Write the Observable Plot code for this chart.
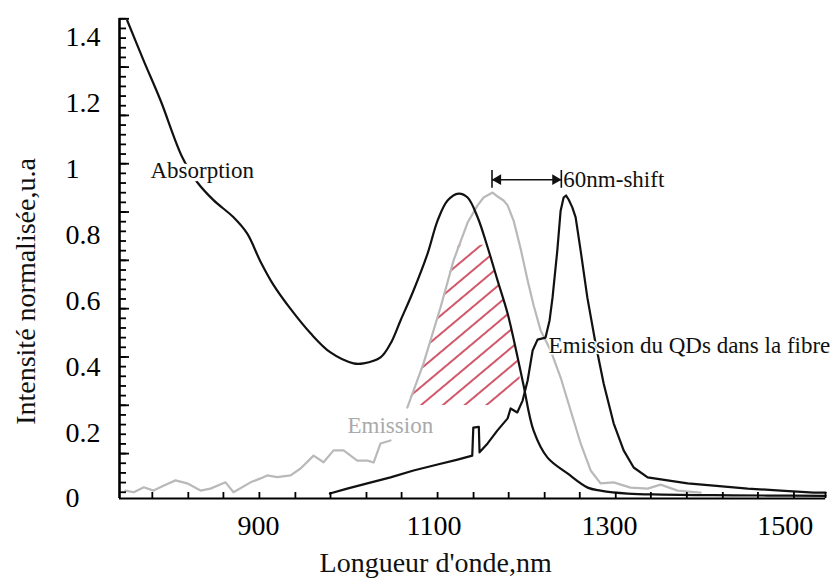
<!DOCTYPE html>
<html><head><meta charset="utf-8">
<script src="https://cdn.jsdelivr.net/npm/d3@7"></script>
<script src="https://cdn.jsdelivr.net/npm/@observablehq/plot@0.6"></script>
<style>
body{margin:0;background:#fff}
#chart svg, #chart svg text { font-family: "Liberation Serif", "Times New Roman", serif !important; }
</style>
</head><body><div id="chart"></div>
<script>
// ---- data (wavelength in nm, normalised intensity) ----
const absorptionNm  = [750.4, 769, 788.3, 813, 830, 848.7, 871.5, 887, 902, 917, 936.5, 959.3, 982, 1008.3, 1019.7, 1039, 1050.4, 1061.8, 1076.6, 1092.6, 1104, 1115.4, 1128, 1138.2, 1149.6, 1161, 1172.4, 1183.8, 1195.2, 1202, 1213.4, 1229.3, 1252, 1275, 1289.7, 1320.5, 1360, 1420, 1480, 1546];
const absorptionVal = [1.450, 1.329, 1.208, 1.036, 0.960, 0.905, 0.853, 0.804, 0.720, 0.648, 0.575, 0.501, 0.443, 0.410, 0.410, 0.428, 0.470, 0.540, 0.631, 0.743, 0.843, 0.904, 0.925, 0.913, 0.853, 0.762, 0.661, 0.561, 0.428, 0.343, 0.206, 0.124, 0.076, 0.033, 0.024, 0.015, 0.012, 0.010, 0.009, 0.008];

const emissionNm  = [748.4, 757.9, 769.3, 780.3, 791.7, 805.4, 818.7, 833.9, 845.3, 862.4, 871.5, 890.9, 902.3, 909.9, 921.3, 936.5, 947.9, 962.7, 974.1, 985.5, 996.9, 1012.5, 1024.3, 1031.1, 1039, 1050.4, 1060, 1069.5, 1088, 1107.4, 1122.2, 1138.2, 1149.6, 1156.4, 1166.7, 1172.4, 1179.2, 1183.8, 1190.6, 1198.6, 1206.6, 1213.4, 1221.4, 1232.8, 1244.2, 1255.6, 1267, 1278.4, 1289.7, 1304.6, 1323.9, 1343.3, 1358.1, 1377.5, 1403.7];
const emissionVal = [0.024, 0.019, 0.034, 0.024, 0.039, 0.055, 0.046, 0.024, 0.030, 0.049, 0.019, 0.049, 0.061, 0.070, 0.065, 0.070, 0.091, 0.130, 0.110, 0.146, 0.146, 0.115, 0.115, 0.109, 0.167, 0.176, NaN, 0.276, 0.410, 0.580, 0.722, 0.837, 0.889, 0.913, 0.928, 0.916, 0.904, 0.889, 0.843, 0.758, 0.661, 0.586, 0.510, 0.449, 0.367, 0.267, 0.167, 0.085, 0.046, 0.049, 0.033, 0.030, 0.042, 0.024, 0.018];

const fibreNm  = [981.3, 1001, 1023.9, 1050.4, 1076.6, 1104, 1126.8, 1143.5, 1144.7, 1151, 1151.8, 1161, 1172, 1183.8, 1187.2, 1194.8, 1200.9, 1206.6, 1212.3, 1217.9, 1227, 1231.6, 1235, 1240.4, 1244.2, 1247.6, 1250.4, 1253.3, 1257.5, 1261.3, 1267, 1274.6, 1284, 1293.2, 1304.6, 1316, 1327.4, 1343.3, 1366, 1388.9, 1418.5, 1457.3, 1494.9, 1532.5, 1546];
const fibreVal = [0.015, 0.030, 0.046, 0.064, 0.085, 0.103, 0.118, 0.130, 0.215, 0.217, 0.140, 0.167, 0.206, 0.243, 0.273, 0.261, 0.297, 0.358, 0.449, 0.482, 0.488, 0.540, 0.610, 0.752, 0.873, 0.913, 0.919, 0.907, 0.883, 0.853, 0.752, 0.610, 0.470, 0.349, 0.228, 0.146, 0.094, 0.064, 0.055, 0.046, 0.039, 0.030, 0.024, 0.018, 0.018];

// hatched overlap region (value, left edge nm, right edge nm)
const hatchVal   = [0.282, 0.328, 0.419, 0.510, 0.601, 0.692, 0.768];
const hatchLeft  = [1069.8, 1076.6, 1089.2, 1099.4, 1109.7, 1118.8, 1127.9];
const hatchRight = [1181.5, 1199.7, 1195.7, 1188.3, 1179.2, 1168.9, 1159.8];

// 60 nm shift marker
const shiftNm = [1166, 1245];
const shiftVal = 0.967;
const shiftBar = [0.941, 0.995];

// axes
const xDomain = [741.6, 1546.2];
const yDomain = [0, 1.456];
const xTickLabels = [900, 1100, 1300, 1500];
const yTickLabels = [0, 0.2, 0.4, 0.6, 0.8, 1, 1.2, 1.4];
const xMinorTicks = [779, 820, 860, 901, 942, 982, 1023, 1063, 1104, 1145, 1185, 1226, 1266, 1307, 1347, 1388, 1429, 1469, 1510, 1546];
const yMinorTicks = d3.range(0.019, 1.46, 0.02931);
const yMajorTicks = d3.range(0.1362, 1.46, 0.14655);

const xTitle = "Longueur d'onde,nm";
const yTitle = "Intensité normalisée,u.a";

const rows = (xs, ys) => xs.map((x, i) => ({x, y: ys[i]}));
const absorption = rows(absorptionNm, absorptionVal);
const emission = rows(emissionNm, emissionVal);
const fibre = rows(fibreNm, fibreVal);
const hatch = hatchVal.map((y, i) => ({y, x1: hatchLeft[i], x2: hatchRight[i]}));

const fmt = d => String(d);

const chart = Plot.plot({
  width: 831, height: 579,
  marginLeft: 119, marginRight: 5.8, marginTop: 18, marginBottom: 81,
  style: {background: "white"},
  x: {domain: xDomain, label: null},
  y: {domain: yDomain, label: null},
  marks: [
    Plot.areaX(hatch, {y: "y", x1: "x1", x2: "x2", fill: "url(#hatch)"}),
    Plot.line(emission, {x: "x", y: "y", stroke: "#b9b9b9", strokeWidth: 2.2}),
    Plot.line(absorption, {x: "x", y: "y", stroke: "#111", strokeWidth: 2.2, curve: "catmull-rom"}),
    Plot.line(fibre, {x: "x", y: "y", stroke: "#111", strokeWidth: 2.2}),
    // axis lines
    Plot.ruleX([xDomain[0]], {stroke: "#000", strokeWidth: 2.6}),
    Plot.ruleY([yDomain[0]], {stroke: "#000", strokeWidth: 2.2}),
    // tick labels
    Plot.axisY({ticks: yTickLabels, tickSize: 0, tickPadding: 54, textAnchor: "start", tickFormat: fmt, fontSize: 28}),
    Plot.axisX({ticks: xTickLabels, tickSize: 0, tickPadding: 17, tickFormat: fmt, fontSize: 28}),
    // axis titles
    Plot.text([xTitle], {text: d => d, frameAnchor: "bottom", textAnchor: "middle", lineAnchor: "middle", dx: -37, dy: 65, fontSize: 28, fill: "#111"}),
    Plot.text([yTitle], {text: d => d, frameAnchor: "left", textAnchor: "middle", lineAnchor: "middle", rotate: -90, dx: -93, dy: 33, fontSize: 28, fill: "#111"}),
    // shift marker
    Plot.ruleX(shiftNm, {x: d => d, y1: shiftBar[0], y2: shiftBar[1], stroke: "#111", strokeWidth: 1.6}),
    Plot.link([shiftNm], {x1: d => d[0], x2: d => d[1], y1: shiftVal, y2: shiftVal, stroke: "#111", strokeWidth: 1.6}),
    Plot.dot([shiftNm[0]], {x: d => d, y: shiftVal, symbol: "triangle", rotate: -90, r: 4, dx: 6, fill: "#111", stroke: null}),
    Plot.dot([shiftNm[1]], {x: d => d, y: shiftVal, symbol: "triangle", rotate: 90, r: 4, dx: -6, fill: "#111", stroke: null}),
    // annotations
    Plot.text(["60nm-shift"], {x: shiftNm[1], y: shiftVal, text: d => d, textAnchor: "start", dx: 2, fontSize: 23, fill: "#111"}),
    Plot.text(["Absorption"], {x: 776.9, y: 0.995, text: d => d, textAnchor: "start", fontSize: 23, fill: "#111", stroke: "white", strokeWidth: 7}),
    Plot.text(["Emission"], {x: 1001.4, y: 0.221, text: d => d, textAnchor: "start", fontSize: 23, fill: "#aaaaaa"}),
    Plot.text(["Emission du QDs dans la fibre"], {x: 1230.5, y: 0.464, text: d => d, textAnchor: "start", fontSize: 23, fill: "#111", stroke: "white", strokeWidth: 3}),
    // inward ticks (drawn last)
    Plot.axisY({ticks: yMinorTicks, tickSize: 7, dx: 7, tickFormat: () => "", stroke: "black", strokeWidth: 1.8}),
    Plot.axisY({ticks: yMajorTicks, tickSize: 10, dx: 10, tickFormat: () => "", stroke: "black", strokeWidth: 1.8}),
    Plot.axisX({ticks: xMinorTicks, tickSize: 6, dy: -6, tickFormat: () => "", stroke: "black", strokeWidth: 1.8})
  ]
});

const ns = "http://www.w3.org/2000/svg";
const defs = document.createElementNS(ns, "defs");
defs.innerHTML = '<pattern id="hatch" patternUnits="userSpaceOnUse" width="14" height="14" patternTransform="rotate(-40)"><line x1="0" y1="7" x2="14" y2="7" stroke="#c21f37" stroke-width="1.5"/></pattern>';
chart.insertBefore(defs, chart.firstChild);
document.getElementById("chart").appendChild(chart);
</script>
</body></html>
